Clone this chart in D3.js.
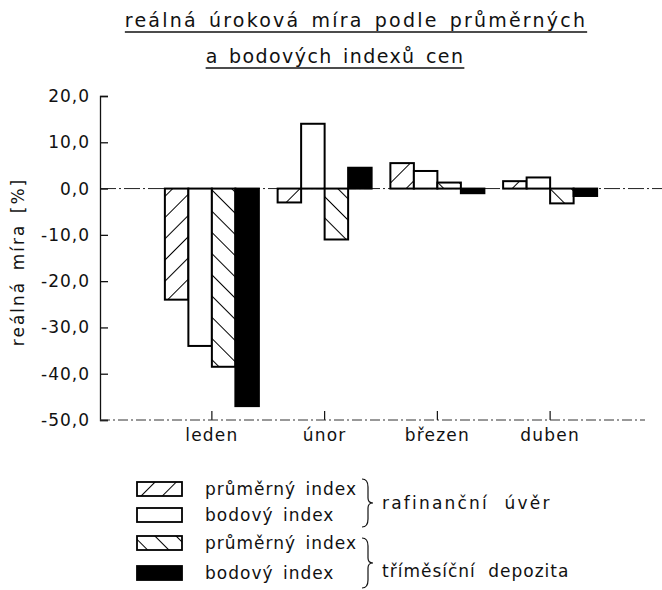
<!DOCTYPE html>
<html>
<head>
<meta charset="utf-8">
<script src="https://cdn.jsdelivr.net/npm/d3@7"></script>
<style>
html,body{margin:0;padding:0;background:#fff;}
text{font-family:"DejaVu Sans",sans-serif;fill:#111;}
</style>
</head>
<body>
<svg id="chart" width="662" height="590"></svg>
<script>
// ---- data ----
const categories = ["leden", "únor", "březen", "duben"];
const seriesNames = ["refAvg", "refSpot", "depAvg", "depSpot"];
const refAvg  = [-24.0, -3.0, 5.5, 1.6];   // refinanční úvěr, průměrný index
const refSpot = [-34.0, 14.0, 3.8, 2.4];   // refinanční úvěr, bodový index
const depAvg  = [-38.5, -11.0, 1.3, -3.2]; // tříměsíční depozita, průměrný index
const depSpot = [-47.0, 4.5, -1.0, -1.6];  // tříměsíční depozita, bodový index
const yTicks = [20, 10, 0, -10, -20, -30, -40, -50];
const titleLines = ["reálná úroková míra podle průměrných", "a bodových indexů cen"];
const yLabel = "reálná míra [%]";
const legendItems = ["průměrný index", "bodový index", "průměrný index", "bodový index"];
const groupLabels = ["rafinanční úvěr", "tříměsíční depozita"];

const values = {refAvg, refSpot, depAvg, depSpot};

const svg = d3.select("#chart");
const defs = svg.append("defs");
function hatch(id, dir) {
  const p = defs.append("pattern").attr("id", id).attr("patternUnits", "userSpaceOnUse")
    .attr("width", 15).attr("height", 15)
    .attr("patternTransform", `rotate(${dir > 0 ? 45 : -45})`);
  p.append("rect").attr("width", 15).attr("height", 15).attr("fill", "#fff");
  p.append("line").attr("x1", 0).attr("y1", 0).attr("x2", 0).attr("y2", 15)
    .attr("stroke", "#000").attr("stroke-width", 2);
}
hatch("hatchF", 1);   // "/"
hatch("hatchB", -1);  // "\"
const fills = {refAvg: "url(#hatchF)", refSpot: "#fff", depAvg: "url(#hatchB)", depSpot: "#000"};

// ---- scales ----
const y = d3.scaleLinear().domain([-50, 20]).range([420, 96]);
const x = d3.scaleBand().domain(categories).range([155.5, 606.5]).padding(0);
const xs = d3.scaleBand().domain(seriesNames).range([-47, 47]).padding(0);

// ---- title ----
const tl = svg.append("g");
[[titleLines[0], 356, 27, 2.2], [titleLines[1], 335, 63, 1.4]].forEach(([t, cx, by, ls]) => {
  const tx = tl.append("text").attr("x", cx).attr("y", by).attr("text-anchor", "middle")
    .attr("font-size", 19).attr("letter-spacing", ls).attr("word-spacing", 3).text(t);
  const bb = tx.node().getBBox();
  tl.append("line").attr("x1", bb.x).attr("x2", bb.x + bb.width)
    .attr("y1", by + 5).attr("y2", by + 5).attr("stroke", "#111").attr("stroke-width", 1.3);
});

// ---- zero line (dash-dot) ----
svg.append("line").attr("x1", 100).attr("x2", 662).attr("y1", y(0)).attr("y2", y(0))
  .attr("stroke", "#222").attr("stroke-width", 1).attr("stroke-dasharray", "16,3,2,3");

// ---- bars ----
const g = svg.append("g");
categories.forEach((c, i) => {
  seriesNames.forEach(s => {
    const v = values[s][i];
    const x0 = x(c) + x.bandwidth() / 2 + xs(s);
    g.append("rect")
      .attr("x", x0).attr("width", xs.bandwidth())
      .attr("y", y(Math.max(0, v))).attr("height", Math.abs(y(v) - y(0)))
      .attr("fill", fills[s]).attr("stroke", "#000").attr("stroke-width", 2);
  });
});

// ---- y axis ----
const yAxis = svg.append("g").attr("transform", "translate(100,0)")
  .call(d3.axisLeft(y).tickValues(yTicks).tickSize(-8).tickPadding(10)
    .tickFormat(d => d3.format(".1f")(d).replace(".", ",").replace("\u2212", "-")));
yAxis.select(".domain").attr("stroke", "#111").attr("stroke-width", 1.3);
yAxis.selectAll(".tick line").attr("stroke", "#111").attr("stroke-width", 1.3);
yAxis.selectAll(".tick text").attr("font-size", 17).attr("fill", "#111")
  .attr("letter-spacing", 1).style("font-family", "DejaVu Sans");

// ---- x axis ----
const xAxis = svg.append("g").attr("transform", `translate(0,${y(-50)})`)
  .call(d3.axisBottom(x).tickSize(-9).tickPadding(9).tickSizeOuter(0));
xAxis.select(".domain").remove();
xAxis.append("line").attr("x1", 100).attr("x2", 645).attr("y1", 0).attr("y2", 0)
  .attr("stroke", "#333").attr("stroke-width", 1).attr("stroke-dasharray", "10,3,2,3");
xAxis.selectAll(".tick line").attr("stroke", "#111").attr("stroke-width", 1.2);
xAxis.selectAll(".tick text").attr("font-size", 17).attr("fill", "#111")
  .attr("letter-spacing", 1.2).style("font-family", "DejaVu Sans");

// ---- y label ----
svg.append("text").attr("transform", "translate(24,262) rotate(-90)")
  .attr("text-anchor", "middle").attr("font-size", 17).attr("letter-spacing", 2)
  .attr("word-spacing", 3).text(yLabel);

// ---- legend ----
const lg = svg.append("g");
const rowY = [489, 515, 543, 573];
legendItems.forEach((t, i) => {
  lg.append("rect").attr("x", 137).attr("y", rowY[i] - 7).attr("width", 45).attr("height", 14)
    .attr("fill", fills[seriesNames[i]]).attr("stroke", "#000").attr("stroke-width", 1.8);
  lg.append("text").attr("x", 205).attr("y", rowY[i] + 6).attr("font-size", 17)
    .attr("letter-spacing", 1).attr("word-spacing", 3).text(t);
});
function brace(xb, y0, y1) {
  const m = (y0 + y1) / 2;
  lg.append("path")
    .attr("d", `M${xb},${y0} Q${xb + 6},${y0} ${xb + 6},${y0 + 8} L${xb + 6},${m - 5} Q${xb + 6},${m} ${xb + 11},${m} Q${xb + 6},${m} ${xb + 6},${m + 5} L${xb + 6},${y1 - 8} Q${xb + 6},${y1} ${xb},${y1}`)
    .attr("fill", "none").attr("stroke", "#111").attr("stroke-width", 1.2);
}
brace(362, 479, 527);
brace(362, 538, 588);
lg.append("text").attr("x", 382).attr("y", 509).attr("font-size", 17)
  .attr("letter-spacing", 2.2).attr("word-spacing", 8).text(groupLabels[0]);
lg.append("text").attr("x", 382).attr("y", 577).attr("font-size", 17)
  .attr("letter-spacing", 1).attr("word-spacing", 6).text(groupLabels[1]);
</script>
</body>
</html>
